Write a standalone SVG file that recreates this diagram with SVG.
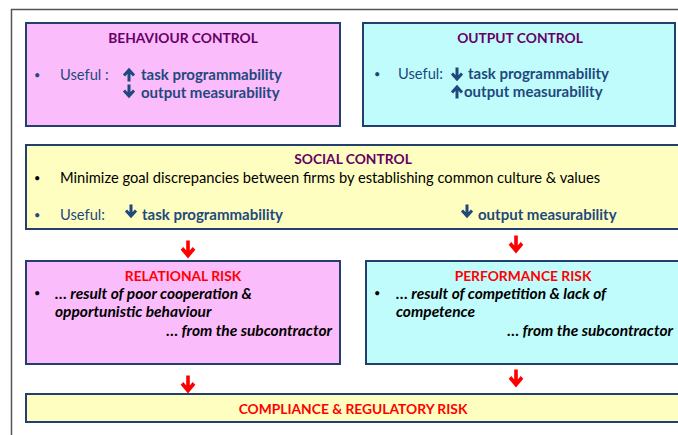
<svg xmlns="http://www.w3.org/2000/svg" width="678" height="435" viewBox="0 0 678 435">
<style>
.box{stroke:#23406d;stroke-width:2}
.pink{fill:#fbbcfb}
.cyan{fill:#c0fcfc}
.yellow{fill:#fefec0}
text{font-family:Lato,"Open Sans",sans-serif;font-size:14.7px}
.title{font-weight:bold;text-anchor:middle;font-size:13.8px}
.purple{fill:#660066}
.red{fill:#ff0000}
.blue{fill:#1f497d}
.b{font-weight:bold;font-size:15px}
.it{font-style:italic;font-weight:bold;fill:#000;font-size:15.5px}
.end{text-anchor:end}
.blk{fill:#000}
.bul{font-size:11px}
</style>
<defs>
<path id="dn" d="M0,-6.5V4M-5,-0.5L0,5L5,-0.5" fill="none" stroke-width="3"/>
</defs>
<path d="M11.5,435V9.5H678" fill="none" stroke="#555" stroke-width="1.5"/>

<g id="behaviour-control">
<rect class="box pink" x="26" y="23" width="314" height="103"/>
<text class="title purple" x="183" y="43">BEHAVIOUR CONTROL</text>
<text class="blue bul" x="34" y="79">•</text>
<text class="blue" x="60" y="80">Useful :</text>
<use href="#dn" transform="translate(129,75) rotate(180)" stroke="#1f497d"/>
<text class="blue b" x="141" y="80">task programmability</text>
<use href="#dn" transform="translate(129,91)" stroke="#1f497d"/>
<text class="blue b" x="141" y="98">output measurability</text>
</g>

<g id="output-control">
<rect class="box cyan" x="363" y="23" width="312" height="103"/>
<text class="title purple" x="520" y="43">OUTPUT CONTROL</text>
<text class="blue bul" x="374" y="78">•</text>
<text class="blue" x="398" y="79">Useful:</text>
<use href="#dn" transform="translate(457,74)" stroke="#1f497d"/>
<text class="blue b" x="468" y="79">task programmability</text>
<use href="#dn" transform="translate(457,92) rotate(180)" stroke="#1f497d"/>
<text class="blue b" x="464" y="97">output measurability</text>
</g>

<g id="social-control">
<rect class="box yellow" x="26" y="145" width="660" height="84"/>
<text class="title purple" x="353" y="164">SOCIAL CONTROL</text>
<text class="blk bul" x="34" y="182">•</text>
<text class="blk" x="60" y="183">Minimize goal discrepancies between firms by establishing common culture &amp; values</text>
<text class="blue bul" x="34" y="219">•</text>
<text class="blue" x="60" y="220">Useful:</text>
<use href="#dn" transform="translate(131,211)" stroke="#1f497d"/>
<text class="blue b" x="142" y="220">task programmability</text>
<use href="#dn" transform="translate(467,211)" stroke="#1f497d"/>
<text class="blue b" x="478" y="220">output measurability</text>
</g>

<g id="relational-risk">
<rect class="box pink" x="26" y="261" width="314" height="103"/>
<text class="title red" x="183" y="281">RELATIONAL RISK</text>
<text class="blk bul" x="34" y="297">•</text>
<text class="it" x="55" y="299">… result of poor cooperation &amp;</text>
<text class="it" x="55" y="317">opportunistic behaviour</text>
<text class="it end" x="332" y="336">… from the subcontractor</text>
</g>

<g id="performance-risk">
<rect class="box cyan" x="366" y="261" width="320" height="103"/>
<text class="title red" x="523" y="281">PERFORMANCE RISK</text>
<text class="blk bul" x="374" y="297">•</text>
<text class="it" x="396" y="299">… result of competition &amp; lack of</text>
<text class="it" x="396" y="317">competence</text>
<text class="it end" x="673" y="336">… from the subcontractor</text>
</g>

<g id="compliance-risk">
<rect class="box yellow" x="26" y="394" width="660" height="28"/>
<text class="title red" x="353" y="414">COMPLIANCE &amp; REGULATORY RISK</text>
</g>

<g id="connectors" stroke="#ff0000">
<use href="#dn" transform="translate(188,249) scale(1.2,1.3)"/>
<use href="#dn" transform="translate(516,244) scale(1.2,1.3)"/>
<use href="#dn" transform="translate(188,384) scale(1.2,1.3)"/>
<use href="#dn" transform="translate(516,378) scale(1.2,1.3)"/>
</g>
</svg>
